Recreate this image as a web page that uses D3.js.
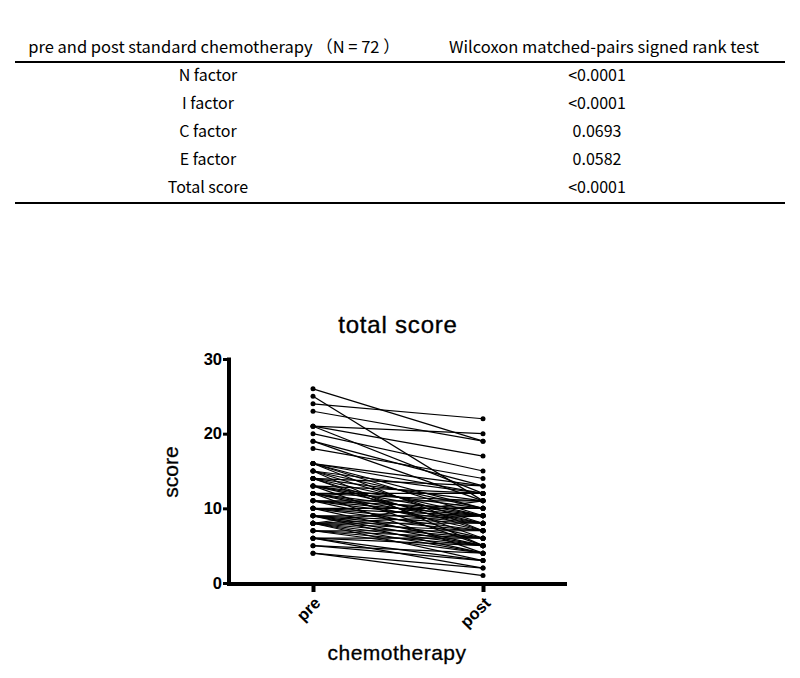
<!DOCTYPE html>
<html>
<head>
<meta charset="utf-8">
<script src="https://cdn.jsdelivr.net/npm/d3@7"></script>
<style>
  body { margin: 0; background: #fff; }
  svg text { fill: #000; }
</style>
</head>
<body>
<svg id="fig" width="800" height="678"></svg>
<script>
// ── Table data ─────────────────────────────────────────────────────────────
const tableHeader = ['pre and post standard chemotherapy （N = 72 ）', 'Wilcoxon matched-pairs signed rank test'];
const factorNames = ['N factor', 'I factor', 'C factor', 'E factor', 'Total score'];
const pValues     = ['<0.0001', '<0.0001', '0.0693', '0.0582', '<0.0001'];

// ── Chart data: paired total scores (pre -> post), N = 72 ──────────────────
const groups     = ['pre', 'post'];
const yTicks     = [0, 10, 20, 30];
const preScores  = [26, 25, 24, 23, 21, 21, 21, 20, 19, 19, 18, 16, 16, 16, 16, 15, 15, 15,
                    15, 14, 14, 14, 14, 14, 13, 13, 13, 13, 12, 12, 12, 12, 12, 11, 11, 11,
                    11, 11, 10, 10, 10, 10, 9, 9, 9, 9, 9, 8, 8, 8, 8, 8, 8, 8,
                    8, 7, 7, 7, 6, 6, 6, 6, 5, 5, 4, 4, 13, 16, 10, 9, 12, 7];
const postScores = [19, 11, 22, 19, 20, 17, 12, 15, 13, 11, 14, 13, 10, 9, 7, 12, 10, 8,
                    5, 13, 11, 9, 7, 6, 12, 10, 8, 5, 12, 11, 9, 7, 4, 11, 10, 9,
                    8, 6, 10, 9, 7, 5, 9, 8, 7, 6, 4, 11, 9, 8, 7, 6, 5, 4,
                    3, 7, 5, 4, 6, 5, 3, 2, 4, 3, 2, 1, 9, 12, 8, 5, 8, 6];

const svg = d3.select('#fig');
const tableFont = '"Noto Sans CJK JP", "Noto Sans", sans-serif';
const chartFont = '"Liberation Sans", Arial, sans-serif';

// ── Table ──────────────────────────────────────────────────────────────────
const colX = [210, 602];
const rowY = d3.scalePoint().domain(factorNames).range([75, 187]);

svg.selectAll('.hdr')
  .data(tableHeader)
  .enter()
  .append('text')
  .attr('class', 'hdr')
  .attr('x', (d, i) => i === 0 ? 214 : 604)
  .attr('y', 47)
  .attr('dy', '0.35em')
  .attr('text-anchor', 'middle')
  .style('font-family', tableFont)
  .style('font-size', '16.5px')
  .text(d => d);

svg.append('line')
  .attr('x1', 15).attr('x2', 785)
  .attr('y1', 62).attr('y2', 62)
  .attr('stroke', '#000').attr('stroke-width', 2);

svg.append('line')
  .attr('x1', 15).attr('x2', 785)
  .attr('y1', 203).attr('y2', 203)
  .attr('stroke', '#000').attr('stroke-width', 2);

svg.selectAll('.rowname')
  .data(factorNames)
  .enter()
  .append('text')
  .attr('class', 'rowname')
  .attr('x', colX[0] - 2)
  .attr('y', d => rowY(d))
  .attr('dy', '0.35em')
  .attr('text-anchor', 'middle')
  .style('font-family', tableFont)
  .style('font-size', '16px')
  .text(d => d);

svg.selectAll('.pval')
  .data(pValues)
  .enter()
  .append('text')
  .attr('class', 'pval')
  .attr('x', colX[1] - 5)
  .attr('y', (d, i) => rowY(factorNames[i]))
  .attr('dy', '0.35em')
  .attr('text-anchor', 'middle')
  .style('font-family', tableFont)
  .style('font-size', '16px')
  .text(d => d);

// ── Paired-points chart ────────────────────────────────────────────────────
const axisX0 = 229, axisX1 = 567;
const y = d3.scaleLinear().domain([0, 30]).range([583, 359]);
const x = d3.scalePoint().domain(groups).range([313, 483]);

const g = svg.append('g');

// Pair lines
const pairs = preScores.map((v, i) => ({ pre: v, post: postScores[i] }));
g.selectAll('.pair')
  .data(pairs)
  .enter()
  .append('line')
  .attr('class', 'pair')
  .attr('x1', x('pre'))
  .attr('x2', x('post'))
  .attr('y1', d => y(d.pre))
  .attr('y2', d => y(d.post))
  .attr('stroke', '#000')
  .attr('stroke-width', 1.2);

// Dots
['pre', 'post'].forEach(k => {
  g.selectAll('.dot-' + k)
    .data(pairs)
    .enter()
    .append('circle')
    .attr('class', 'dot-' + k)
    .attr('cx', x(k))
    .attr('cy', d => y(d[k]))
    .attr('r', 2.5)
    .attr('fill', '#000');
});

// Y axis
const yAxis = g.append('g')
  .attr('transform', `translate(${axisX0},0)`)
  .call(d3.axisLeft(y).tickValues(yTicks).tickSize(6).tickSizeOuter(0).tickPadding(1));
yAxis.select('.domain').remove();
yAxis.append('line')
  .attr('x1', 0).attr('x2', 0)
  .attr('y1', y(30) - 1.5).attr('y2', y(0) + 2)
  .attr('stroke', '#000')
  .attr('stroke-width', 4);
yAxis.selectAll('.tick line').attr('stroke-width', 3);
yAxis.selectAll('.tick text')
  .style('font-family', chartFont)
  .style('font-weight', 'bold')
  .style('font-size', '16.5px');

// X axis
const xAxis = g.append('g')
  .attr('transform', `translate(0,${y(0) + 1})`)
  .call(d3.axisBottom(x).tickSize(8).tickSizeOuter(0).tickPadding(4));
xAxis.select('.domain').remove();
xAxis.append('line')
  .attr('x1', axisX0 - 2).attr('x2', axisX1)
  .attr('y1', 0).attr('y2', 0)
  .attr('stroke', '#000')
  .attr('stroke-width', 4);
xAxis.selectAll('.tick line').attr('stroke-width', 4);
xAxis.selectAll('.tick text')
  .style('font-family', chartFont)
  .style('font-weight', 'bold')
  .style('font-size', '16.5px')
  .attr('text-anchor', 'end')
  .attr('dy', '0.35em')
  .attr('transform', 'translate(4,16) rotate(-45)')
  .attr('y', 0);

// Title and axis labels (medium weight: regular face with a thin outline)
svg.append('text')
  .attr('x', 398).attr('y', 333)
  .attr('text-anchor', 'middle')
  .style('font-family', chartFont)
  .style('font-size', '24px')
  .style('stroke', '#000')
  .style('stroke-width', '0.35px')
  .style('letter-spacing', '0.8px')
  .text('total score');

svg.append('text')
  .attr('transform', 'translate(178,472) rotate(-90)')
  .attr('text-anchor', 'middle')
  .style('font-family', chartFont)
  .style('font-size', '21px')
  .style('stroke', '#000')
  .style('stroke-width', '0.3px')
  .text('score');

svg.append('text')
  .attr('x', 397).attr('y', 660)
  .attr('text-anchor', 'middle')
  .style('font-family', chartFont)
  .style('font-size', '21px')
  .style('stroke', '#000')
  .style('stroke-width', '0.3px')
  .style('letter-spacing', '0.5px')
  .text('chemotherapy');
</script>
</body>
</html>
